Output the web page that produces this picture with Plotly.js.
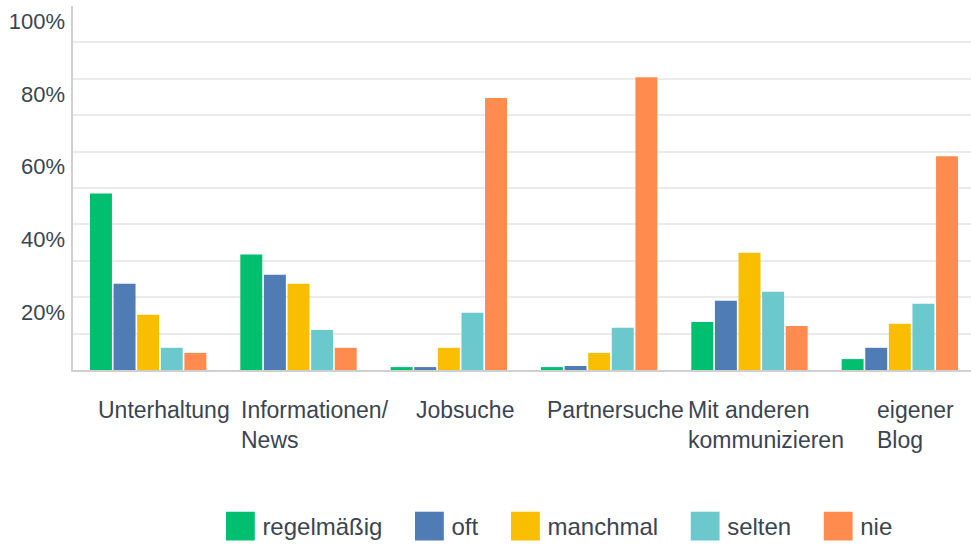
<!DOCTYPE html>
<html><head><meta charset="utf-8">
<script src="https://cdn.plot.ly/plotly-3.0.1.min.js"></script>
<style>
html,body{margin:0;padding:0;overflow:hidden;background:#fff;}
#chart{width:976px;height:551px;}
.legend .legendpoints path{transform:translate(42px,0px) scale(2.4);}
</style></head><body>
<div id="chart"></div>
<script>
// categories and their displayed labels
const categories = ["Unterhaltung","Informationen/News","Jobsuche","Partnersuche","Mit anderen kommunizieren","eigener Blog"];
const categoryLabels = ["Unterhaltung","Informationen/<br>News","Jobsuche","Partnersuche","Mit anderen<br>kommunizieren","eigener<br>Blog"];

// series names
const seriesNames = ["regelmäßig","oft","manchmal","selten","nie"];

// series values (percent)
const regelmaessig = [48.5, 31.7, 0.8, 0.8, 13.2, 3.0];
const oft          = [23.7, 26.2, 0.8, 1.1, 19.0, 6.1];
const manchmal     = [15.2, 23.7, 6.1, 4.7, 32.2, 12.7];
const selten       = [6.1, 11.0, 15.7, 11.6, 21.5, 18.2];
const nie          = [4.7, 6.1, 74.7, 80.4, 12.1, 58.7];

// y tick labels
const yTickVals = [20, 40, 60, 80, 100];
const yTickText = ["20%", "40%", "60%", "80%", "100%"];
const yGridVals = [10, 20, 30, 40, 50, 60, 70, 80, 90];

const seriesValues = [regelmaessig, oft, manchmal, selten, nie];
const colors = ["#00BF6F", "#507CB6", "#F9BE00", "#6BC8CD", "#FF8B4F"];
const textColor = "#3b4550";

const traces = seriesNames.map((name, i) => ({
  type: "bar",
  name: name,
  x: categories,
  y: seriesValues[i],
  marker: {color: colors[i]},
  hoverinfo: "x+y+name"
}));

const annotations = categories.map((c, i) => ({
  x: c, xref: "x",
  y: 0, yref: "paper",
  yanchor: "top", xanchor: "center",
  xshift: 16, yshift: -25,
  align: "left",
  showarrow: false,
  text: categoryLabels[i],
  font: {family: "Liberation Sans, Arial, sans-serif", size: 23, color: textColor}
}));

const layout = {
  width: 976, height: 551,
  margin: {l: 73, r: 1, t: 6, b: 181, pad: 0},
  paper_bgcolor: "#ffffff",
  plot_bgcolor: "#ffffff",
  font: {family: "Liberation Sans, Arial, sans-serif", color: textColor},
  barmode: "group",
  bargap: 0.215,
  bargroupgap: 0.07,
  xaxis: {
    type: "category",
    showticklabels: false,
    ticks: "",
    showgrid: false,
    showline: true,
    linecolor: "#cfcfcf",
    linewidth: 2,
    zeroline: false,
    fixedrange: true
  },
  yaxis: {
    range: [0, 100],
    tickmode: "array",
    tickvals: yGridVals,
    showticklabels: false,
    ticks: "",
    showgrid: true,
    gridcolor: "#ebebeb",
    gridwidth: 1.5,
    showline: true,
    linecolor: "#cfcfcf",
    linewidth: 1.5,
    zeroline: false,
    fixedrange: true
  },
  yaxis2: {
    overlaying: "y",
    side: "left",
    anchor: "x",
    range: [0, 100],
    tickmode: "array",
    tickvals: yTickVals,
    ticktext: yTickText,
    ticks: "",
    showgrid: false,
    showline: false,
    zeroline: false,
    ticklabelshift: 15,
    ticklabelstandoff: 7,
    tickfont: {family: "Liberation Sans, Arial, sans-serif", size: 22, color: textColor},
    fixedrange: true
  },
  showlegend: true,
  legend: {
    orientation: "h",
    x: 0.139, xanchor: "left",
    y: -0.43, yanchor: "middle",
    itemwidth: 54,
    font: {family: "Liberation Sans, Arial, sans-serif", size: 24, color: textColor},
    bgcolor: "rgba(0,0,0,0)",
    itemclick: false, itemdoubleclick: false
  },
  annotations: annotations
};

// invisible helper so the overlaying label axis is attached to a trace
traces.push({type: "scatter", x: [categories[0]], y: [0], yaxis: "y2", mode: "markers",
  marker: {opacity: 0}, showlegend: false, hoverinfo: "skip"});

Plotly.newPlot("chart", traces, layout, {displayModeBar: false, staticPlot: false});
</script>
</body></html>
